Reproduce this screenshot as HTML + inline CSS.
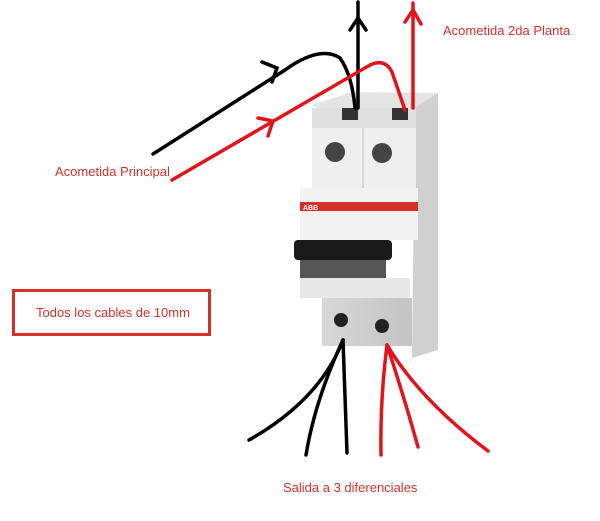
<!DOCTYPE html>
<html><head><meta charset="utf-8"><style>
html,body{margin:0;padding:0;background:#fff;width:600px;height:521px;overflow:hidden;font-family:"Liberation Sans",sans-serif}
</style></head><body>
<svg width="600" height="521" viewBox="0 0 600 521" xmlns="http://www.w3.org/2000/svg">
<!-- breaker -->
<defs>
<linearGradient id="g1" x1="0" x2="1"><stop offset="0" stop-color="#d8d8d8"/><stop offset="1" stop-color="#c4c4c4"/></linearGradient>
</defs>
<!-- side face -->
<polygon points="415,100 438,93 438,350 412,358" fill="#d0d0d0"/>
<!-- top terminal block -->
<polygon points="312,105 352,92 438,93 415,108 320,110" fill="#e4e4e4"/>
<rect x="312" y="108" width="104" height="20" fill="#e0e0e0"/>
<rect x="342" y="108" width="16" height="12" fill="#333"/>
<rect x="392" y="108" width="16" height="12" fill="#333"/>
<rect x="312" y="128" width="104" height="60" fill="#efefef"/>
<line x1="363" y1="128" x2="363" y2="300" stroke="#bbb"/>
<circle cx="335" cy="152" r="10" fill="#444"/>
<circle cx="382" cy="153" r="10" fill="#444"/>
<!-- label area -->
<rect x="300" y="188" width="118" height="52" fill="#f1f1f1"/>
<rect x="300" y="202" width="118" height="9" fill="#d6302b"/>
<text x="303" y="210" font-size="7" fill="#fff" font-weight="bold">ABB</text>
<!-- toggle -->
<rect x="294" y="240" width="98" height="20" rx="4" fill="#1a1a1a"/>
<rect x="300" y="260" width="86" height="18" fill="#555"/>
<rect x="300" y="278" width="110" height="20" fill="#e8e8e8"/>
<!-- bottom -->
<rect x="322" y="298" width="90" height="48" fill="url(#g1)"/>
<circle cx="341" cy="320" r="7" fill="#222"/>
<circle cx="382" cy="326" r="7" fill="#222"/>
<!-- black wires top -->
<g fill="none" stroke="#000" stroke-width="3.5" stroke-linecap="round">
<path d="M153,154 L285,70 Q320,45 340,58 Q352,75 355,108"/>
<polyline points="262,62 277,68 272,82"/>
<line x1="358" y1="108" x2="358" y2="2"/>
<polyline points="350,30 358,18 366,30"/>
</g>
<g fill="none" stroke="#e0141c" stroke-width="3.5" stroke-linecap="round">
<path d="M172,180 L370,65 Q385,58 392,72 L405,110"/>
<polyline points="258,118 273,121 268,136"/>
<line x1="413" y1="108" x2="413" y2="3"/>
<polyline points="405,22 413,10 421,24"/>
</g>
<!-- bottom wires -->
<g fill="none" stroke="#000" stroke-width="3.5" stroke-linecap="round">
<path d="M343,340 Q320,400 249,440"/>
<path d="M343,340 Q315,400 306,455"/>
<path d="M343,340 Q345,400 347,453"/>
</g>
<g fill="none" stroke="#e0141c" stroke-width="3.5" stroke-linecap="round">
<path d="M387,345 Q380,400 381,455"/>
<path d="M387,345 Q405,400 418,447"/>
<path d="M387,345 Q420,400 488,451"/>
</g>
<text x="55" y="176" font-size="13" fill="#d6302b">Acometida Principal</text>
<text x="443" y="35" font-size="13" fill="#d6302b">Acometida 2da Planta</text>
<text x="283" y="492" font-size="13" fill="#d6302b">Salida a 3 diferenciales</text>
<rect x="13.5" y="290.5" width="196" height="44" fill="none" stroke="#d6302b" stroke-width="3"/>
<text x="36" y="317" font-size="13" fill="#d6302b">Todos los cables de 10mm</text>
</svg>
</body></html>
